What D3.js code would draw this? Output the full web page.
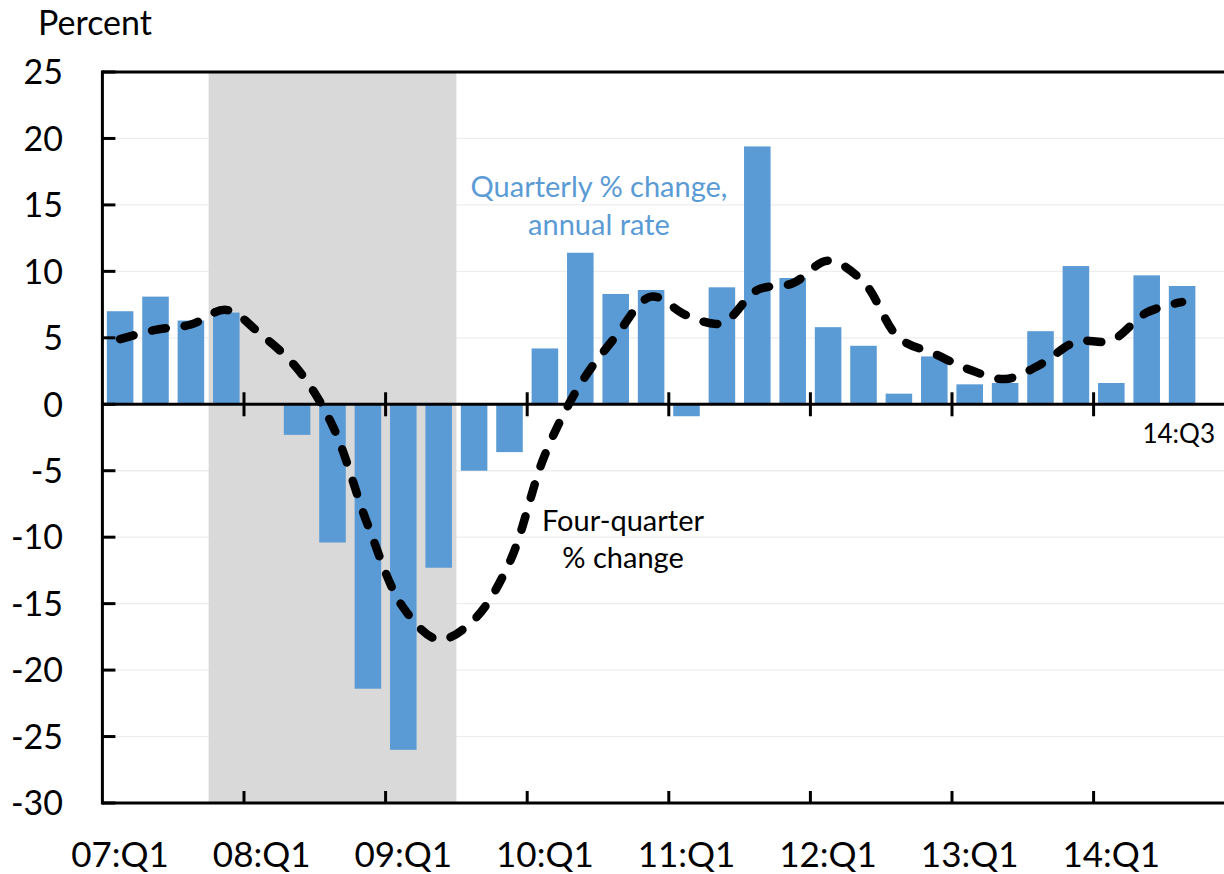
<!DOCTYPE html>
<html>
<head>
<meta charset="utf-8">
<script src="https://cdn.jsdelivr.net/npm/d3@7"></script>
<style>
  body { margin: 0; background: #fff; }
  svg { display: block; font-family: Lato, "Open Sans", sans-serif; }
</style>
</head>
<body>
<svg id="chart"></svg>
<script>
// quarters shown, plus one empty slot at the right edge
var quarters = ["07:Q1","07:Q2","07:Q3","07:Q4","08:Q1","08:Q2","08:Q3","08:Q4",
  "09:Q1","09:Q2","09:Q3","09:Q4","10:Q1","10:Q2","10:Q3","10:Q4",
  "11:Q1","11:Q2","11:Q3","11:Q4","12:Q1","12:Q2","12:Q3","12:Q4",
  "13:Q1","13:Q2","13:Q3","13:Q4","14:Q1","14:Q2","14:Q3"];
var padSlot = ["14:Q4"];

// quarterly % change, annual rate (bars)
var quarterly = [7.0, 8.1, 6.3, 6.9, 0.0, -2.3, -10.4, -21.4,
  -26.0, -12.3, -5.0, -3.6, 4.2, 11.4, 8.3, 8.6,
  -0.9, 8.8, 19.4, 9.5, 5.8, 4.4, 0.8, 3.6,
  1.5, 1.6, 5.5, 10.4, 1.6, 9.7, 8.9];

// four-quarter % change (dashed line)
var fourQuarter = [4.9, 5.6, 6.0, 7.1, 5.2, 2.7, -1.6, -9.1,
  -15.3, -17.7, -16.2, -11.9, -3.8, 1.5, 5.1, 8.1,
  6.7, 6.1, 8.6, 9.1, 10.8, 9.2, 5.0, 3.8,
  2.6, 1.9, 3.0, 4.7, 4.8, 6.9, 7.7];

var yTicks = [25, 20, 15, 10, 5, 0, -5, -10, -15, -20, -25, -30];
var xLabels = ["07:Q1","08:Q1","09:Q1","10:Q1","11:Q1","12:Q1","13:Q1","14:Q1"];
var recession = ["07:Q4", "09:Q2"];

var W = 1224, H = 874;
var mLeft = 102.4, mTop = 72, mBottom = 803;

var svg = d3.select("#chart").attr("width", W).attr("height", H);

var x = d3.scaleBand()
  .domain(quarters.concat(padSlot))
  .range([mLeft, mLeft + 32 * 35.4])
  .paddingInner(0.25)
  .paddingOuter(0.125);
var step = x.step();
var bandLeft = d => x(d) - (step - x.bandwidth()) / 2;
var center = d => x(d) + x.bandwidth() / 2;

var y = d3.scaleLinear().domain([-30, 25]).range([mBottom, mTop]);

// gridlines
svg.append("g").selectAll("line")
  .data(yTicks.filter(d => d != 25 && d != -30 && d != 0))
  .enter().append("line")
  .attr("x1", mLeft).attr("x2", W)
  .attr("y1", d => y(d)).attr("y2", d => y(d))
  .attr("stroke", "#eeeeee").attr("stroke-width", 1.3);

// recession shading
svg.append("rect")
  .attr("x", bandLeft(recession[0]))
  .attr("width", bandLeft(recession[1]) + step - bandLeft(recession[0]))
  .attr("y", mTop).attr("height", mBottom - mTop)
  .attr("fill", "#d9d9d9");

// bars
svg.append("g").selectAll("rect")
  .data(quarters)
  .enter().append("rect")
  .attr("x", d => x(d))
  .attr("width", x.bandwidth())
  .attr("y", (d, i) => y(Math.max(0, quarterly[i])))
  .attr("height", (d, i) => Math.abs(y(quarterly[i]) - y(0)))
  .attr("fill", "#5b9bd5");

// four-quarter line
var line = d3.line()
  .x((d, i) => center(quarters[i]))
  .y(d => y(d))
  .curve(d3.curveCatmullRom.alpha(0.5));

svg.append("path")
  .attr("d", line(fourQuarter))
  .attr("fill", "none")
  .attr("stroke", "#000")
  .attr("stroke-width", 8.5)
  .attr("stroke-linecap", "round")
  .attr("stroke-dasharray", "14,19");

// axes frame
var ax = svg.append("g").attr("stroke", "#000").attr("stroke-width", 3);
ax.append("line").attr("x1", mLeft).attr("x2", W).attr("y1", mTop).attr("y2", mTop);
ax.append("line").attr("x1", mLeft).attr("x2", mLeft).attr("y1", mTop - 1.5).attr("y2", mBottom + 1.5);
ax.append("line").attr("x1", mLeft).attr("x2", W).attr("y1", mBottom).attr("y2", mBottom);
ax.append("line").attr("x1", mLeft).attr("x2", W).attr("y1", y(0)).attr("y2", y(0));

// y ticks
ax.selectAll(".yt").data(yTicks).enter().append("line")
  .attr("x1", mLeft).attr("x2", mLeft + 13)
  .attr("y1", d => y(d)).attr("y2", d => y(d));

// x ticks at each year boundary
ax.selectAll(".xt0").data(xLabels.slice(1)).enter().append("line")
  .attr("x1", d => bandLeft(d)).attr("x2", d => bandLeft(d))
  .attr("y1", y(0) - 12).attr("y2", y(0) + 12);
ax.selectAll(".xtb").data(xLabels.slice(1)).enter().append("line")
  .attr("x1", d => bandLeft(d)).attr("x2", d => bandLeft(d))
  .attr("y1", mBottom - 12).attr("y2", mBottom);

// y tick labels
svg.append("g").selectAll("text")
  .data(yTicks).enter().append("text")
  .attr("x", 63).attr("y", d => y(d))
  .attr("dy", "0.36em")
  .attr("text-anchor", "end")
  .style("font-size", "34px")
  .text(d => d);

// x labels
svg.append("g").selectAll("text")
  .data(xLabels).enter().append("text")
  .attr("x", d => center(d)).attr("y", 867)
  .attr("text-anchor", "middle")
  .style("font-size", "35px")
  .text(d => d);

svg.append("text").attr("x", 38).attr("y", 35)
  .style("font-size", "34px").text("Percent");

svg.append("text").attr("x", 1215).attr("y", 443)
  .attr("text-anchor", "end")
  .style("font-size", "26px").text("14:Q3");

var blue = svg.append("text").attr("fill", "#5b9bd5")
  .attr("text-anchor", "middle").style("font-size", "29px");
blue.append("tspan").attr("x", 599).attr("y", 197).text("Quarterly % change,");
blue.append("tspan").attr("x", 599).attr("y", 235).text("annual rate");

var black = svg.append("text").attr("fill", "#000")
  .attr("text-anchor", "middle").style("font-size", "29px");
black.append("tspan").attr("x", 623).attr("y", 531).text("Four-quarter");
black.append("tspan").attr("x", 623).attr("y", 568).text("% change");
</script>
</body>
</html>
